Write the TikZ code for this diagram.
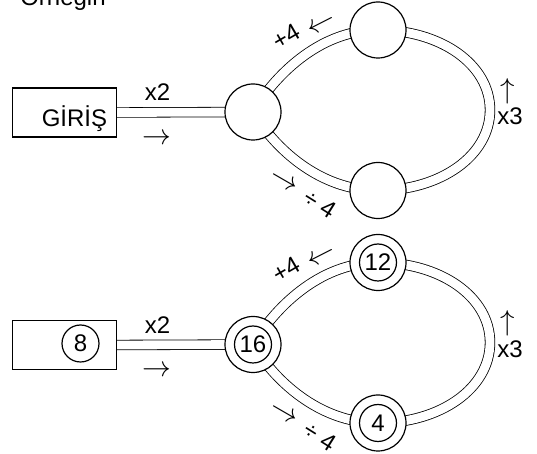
\documentclass[tikz,border=0pt]{standalone}
\usepackage{fontspec}
\setmainfont{Liberation Sans}
\usetikzlibrary{backgrounds}

\begin{document}
\begin{tikzpicture}[x=0.5pt,y=-0.5pt,line width=0.6pt,
  every node/.style={font=\fontsize{12}{14}\selectfont}]
\tikzstyle{station} = [circle, draw, fill=white, minimum size=28pt, inner sep=0pt]
\tikzstyle{value} = [circle, draw, minimum size=18.5pt, inner sep=0pt]
\tikzstyle{inbox} = [rectangle, draw, fill=white, minimum width=52pt, minimum height=24.5pt]
\tikzstyle{pipe} = [draw, double, double distance=4.4pt]
\tikzstyle{dir} = [font=\fontsize{14}{16}\selectfont, inner sep=0pt]
\tikzstyle{op} = [inner sep=0pt]
\useasboundingbox (0,0) rectangle (537,454);

\node[anchor=base west] (title) at (13,6) {Örneğin};

% the same machine twice, one under the other
\foreach \dy/\s in {0/a,232.5/b} {
\begin{scope}[shift={(0,\dy)}]
  \node[inbox] (box\s) at (64.3,112.5) {};
  \node[station] (left\s) at (253,112) {};
  \node[station] (top\s) at (378,30) {};
  \node[station] (bot\s) at (378,190.5) {};
  \coordinate (rgt\s) at (490,110);
  \begin{scope}[on background layer]
    \path[pipe] (box\s.east) -- (left\s.center);
    \path[pipe] (left\s.center) .. controls +(20,-34) and +(-60,0) .. (top\s.center)
      .. controls +(62,0) and +(0,-46) .. (rgt\s)
      .. controls +(0,46) and +(62,0) .. (bot\s.center)
      .. controls +(-60,0) and +(20,34) .. (left\s.center);
  \end{scope}
  % operations
  \node[op,anchor=base] (xtwo\s) at (157.5,100.8) {x2};
  \node[dir] (flow\s) at (157,139) {$\rightarrow$};
  \node[op,rotate=30] (plus\s) at (286,37) {+4};
  \node[dir,rotate=27] (back\s) at (322,25) {$\leftarrow$};
  \node[dir] (up\s) at (508,91) {$\uparrow$};
  \node[op,anchor=base] (xthree\s) at (510,125) {x3};
  \node[dir,rotate=-30] (down\s) at (284,182) {$\rightarrow$};
  \node[op,rotate=-32] (div\s) at (320,204) {÷\hspace{3pt}4};
\end{scope}
}

\node[anchor=base] (entry) at (74.5,127) {GİRİŞ};
% values
\node[value] (v8) at (80.5,343.5) {8};
\node[value] (v16) at (leftb) {16};
\node[value] (v12) at (topb) {12};
\node[value] (v4) at (botb) {4};
\end{tikzpicture}
\end{document}
